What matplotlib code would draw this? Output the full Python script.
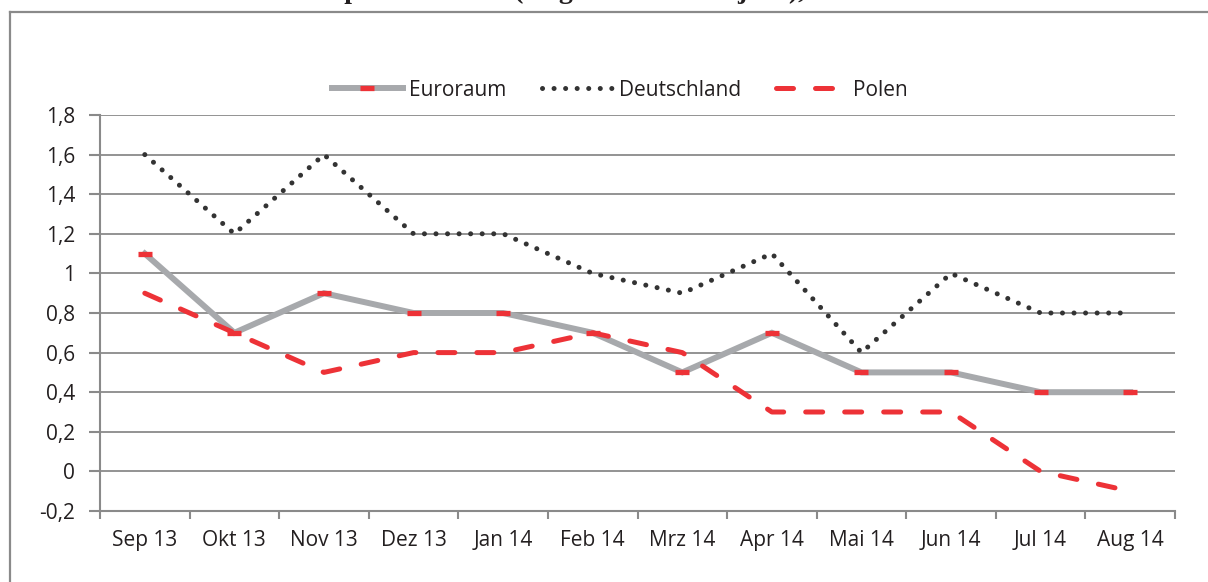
import matplotlib
matplotlib.use("Agg")
import matplotlib.pyplot as plt
import matplotlib.ticker as mticker
from matplotlib.lines import Line2D

months = ["Sep 13", "Okt 13", "Nov 13", "Dez 13", "Jan 14", "Feb 14",
          "Mrz 14", "Apr 14", "Mai 14", "Jun 14", "Jul 14", "Aug 14"]
euroraum = [1.1, 0.7, 0.9, 0.8, 0.8, 0.7, 0.5, 0.7, 0.5, 0.5, 0.4, 0.4]
deutschland = [1.6, 1.2, 1.6, 1.2, 1.2, 1.0, 0.9, 1.1, 0.6, 1.0, 0.8, 0.8]
polen = [0.9, 0.7, 0.5, 0.6, 0.6, 0.7, 0.6, 0.3, 0.3, 0.3, 0.0, -0.1]
y_ticks = [-0.2, 0, 0.2, 0.4, 0.6, 0.8, 1.0, 1.2, 1.4, 1.6, 1.8]

RED = "#ed3237"
GRAY_LINE = "#a7a9ac"
DOTS = "#333333"
AXIS_GRAY = "#8a8a8a"

plt.rcParams["font.family"] = ["Open Sans", "DejaVu Sans"]
plt.rcParams["axes.unicode_minus"] = False

W, H = 1208, 582
fig = plt.figure(figsize=(W / 100, H / 100), dpi=100)
ax = fig.add_axes([100 / W, 1 - 511 / H, 1075 / W, 396 / H])

x = list(range(len(months)))

ax.plot(x, euroraum, color=GRAY_LINE, lw=4.3, solid_joinstyle="miter",
        marker="_", markersize=10, mew=3.8, mec=RED, label="Euroraum", zorder=3)
ax.plot(x, deutschland, color=DOTS, lw=3.6, linestyle=(0, (0.01, 2.3)),
        dash_capstyle="round", label="Deutschland", zorder=4)
ax.plot(x, polen, color=RED, lw=3.6, linestyle=(0, (3.4, 4.4)),
        dash_capstyle="round", label="Polen", zorder=5)

ax.set_xlim(-0.5, len(months) - 0.5)
ax.set_ylim(-0.2, 1.8)

# category boundaries get the tick marks, centres get the labels
ax.set_xticks([i - 0.5 for i in range(len(months) + 1)])
ax.set_xticklabels([])
ax.set_xticks(x, minor=True)
ax.set_xticklabels(months, minor=True)
ax.tick_params(axis="x", which="major", length=6, width=1.5, color=AXIS_GRAY, direction="out")
ax.tick_params(axis="x", which="minor", length=0, pad=14, labelsize=15, labelcolor="#231f20")

ax.set_yticks(y_ticks)
ax.yaxis.set_major_formatter(mticker.FuncFormatter(lambda v, p: f"{v:g}".replace(".", ",")))
ax.tick_params(axis="y", length=8, width=1.5, color=AXIS_GRAY, pad=10,
               labelsize=15, labelcolor="#231f20")

ax.grid(axis="y", color=AXIS_GRAY, lw=1.3)
ax.set_axisbelow(True)
for side in ["top", "right"]:
    ax.spines[side].set_visible(False)
for side in ["left", "bottom"]:
    ax.spines[side].set_color(AXIS_GRAY)
    ax.spines[side].set_linewidth(1.5)

fig.legend(loc="center", bbox_to_anchor=(620 / W, 1 - 90 / H), ncol=3, frameon=False,
           fontsize=15, handlelength=3.4, handletextpad=0.3, columnspacing=1.7,
           labelcolor="#231f20")

# frame of the surrounding box (only top and left edge are visible)
fig.add_artist(Line2D([9.5 / W, 9.5 / W], [0, 1 - 12 / H], color=AXIS_GRAY, lw=1.6))
fig.add_artist(Line2D([9.5 / W, 1], [1 - 12 / H, 1 - 12 / H], color=AXIS_GRAY, lw=1.6))

# title line, cut off by the top edge of the picture
fig.text(13 / W, 1 + 2.5 / H, "Harmonisierte Verbraucherpreise der EU (Angaben zum Vorjahr), in %",
         family="Liberation Serif", fontweight="bold", fontsize=20, va="baseline",
         color="#231f20")

fig.savefig("out.png", dpi=100)
